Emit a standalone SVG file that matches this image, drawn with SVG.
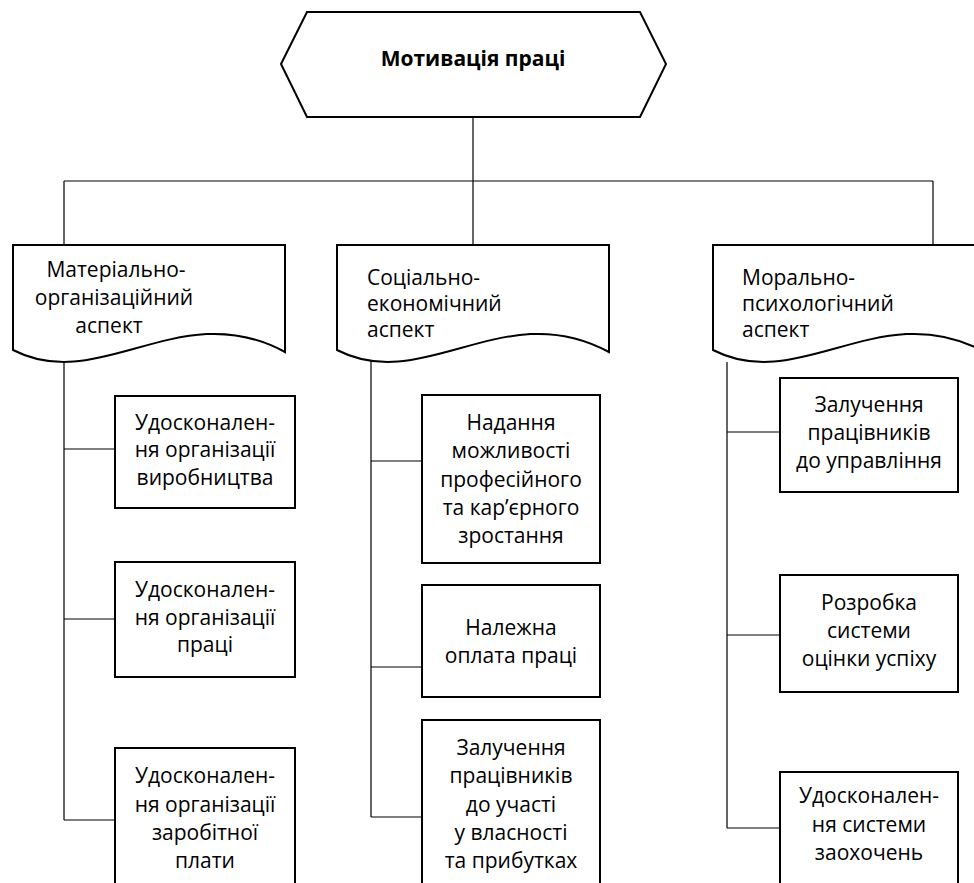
<svg xmlns="http://www.w3.org/2000/svg" xmlns:xlink="http://www.w3.org/1999/xlink" width="974" height="883" viewBox="0 0 974 883">
<style>
.shape{fill:#fff;stroke:#000;stroke-width:2;stroke-linejoin:miter}
.conn{fill:none;stroke:#000;stroke-width:1.2}
text{font-family:"Open Sans","Noto Sans","DejaVu Sans",sans-serif;font-size:21px;fill:#000}
.c{text-anchor:middle}
.title{font-weight:bold;font-size:21px}
</style>
<defs>
<path id="doc" d="M0,0 H272 V107 C167,50 87,150 0,105 Z"/>
</defs>
<rect width="974" height="883" fill="#fff"/>
<g id="connectors">
<path class="conn" d="M473,117 V245"/>
<path class="conn" d="M64,181 H933"/>
<path class="conn" d="M64,181 V245"/>
<path class="conn" d="M933,181 V245"/>
<path class="conn" d="M64,362 V820 M64,449 H115 M64,619 H115 M64,820 H115"/>
<path class="conn" d="M371,360 V817 M371,461 H422 M371,667 H422 M371,817 H422"/>
<path class="conn" d="M727,362 V828 M727,432 H780 M727,635 H780 M727,828 H780"/>
</g>
<g id="root">
<polygon class="shape" points="281,64 307,12 640,12 666,64 640,117 307,117"/>
<text class="c title" x="473" y="66">Мотивація праці</text>
</g>
<g id="aspect-material">
<use class="shape" xlink:href="#doc" href="#doc" x="13" y="245"/>
<text class="c" x="116" y="277">Матеріально-</text>
<text class="c" x="114" y="305">організаційний</text>
<text class="c" x="109" y="333">аспект</text>
</g>
<g id="aspect-social">
<use class="shape" xlink:href="#doc" href="#doc" x="337" y="245"/>
<text x="367" y="285">Соціально-</text>
<text x="367" y="311">економічний</text>
<text x="367" y="337">аспект</text>
</g>
<g id="aspect-moral">
<use class="shape" xlink:href="#doc" href="#doc" x="713" y="245"/>
<text x="742" y="285">Морально-</text>
<text x="742" y="311">психологічний</text>
<text x="742" y="337">аспект</text>
</g>
<g id="m1">
<rect class="shape" x="115" y="396" width="180" height="112"/>
<text class="c" x="205" y="430">Удосконален-</text>
<text class="c" x="205" y="457">ня організації</text>
<text class="c" x="205" y="485">виробництва</text>
</g>
<g id="m2">
<rect class="shape" x="115" y="562" width="180" height="115"/>
<text class="c" x="205" y="597">Удосконален-</text>
<text class="c" x="205" y="625">ня організації</text>
<text class="c" x="205" y="652">праці</text>
</g>
<g id="m3">
<rect class="shape" x="115" y="748" width="180" height="145"/>
<text class="c" x="205" y="783">Удосконален-</text>
<text class="c" x="205" y="812">ня організації</text>
<text class="c" x="205" y="840">заробітної</text>
<text class="c" x="205" y="868">плати</text>
</g>
<g id="s1">
<rect class="shape" x="422" y="395" width="178" height="168"/>
<text class="c" x="511" y="430">Надання</text>
<text class="c" x="511" y="458">можливості</text>
<text class="c" x="511" y="487">професійного</text>
<text class="c" x="511" y="515">та кар’єрного</text>
<text class="c" x="511" y="543">зростання</text>
</g>
<g id="s2">
<rect class="shape" x="422" y="585" width="178" height="112"/>
<text class="c" x="511" y="635">Належна</text>
<text class="c" x="511" y="663">оплата праці</text>
</g>
<g id="s3">
<rect class="shape" x="422" y="720" width="178" height="173"/>
<text class="c" x="511" y="755">Залучення</text>
<text class="c" x="511" y="783">працівників</text>
<text class="c" x="511" y="812">до участі</text>
<text class="c" x="511" y="840">у власності</text>
<text class="c" x="511" y="868">та прибутках</text>
</g>
<g id="p1">
<rect class="shape" x="780" y="378" width="178" height="114"/>
<text class="c" x="869" y="412">Залучення</text>
<text class="c" x="869" y="440">працівників</text>
<text class="c" x="869" y="468">до управління</text>
</g>
<g id="p2">
<rect class="shape" x="780" y="575" width="178" height="117"/>
<text class="c" x="869" y="610">Розробка</text>
<text class="c" x="869" y="638">системи</text>
<text class="c" x="869" y="666">оцінки успіху</text>
</g>
<g id="p3">
<rect class="shape" x="780" y="772" width="178" height="121"/>
<text class="c" x="869" y="803">Удосконален-</text>
<text class="c" x="869" y="832">ня системи</text>
<text class="c" x="869" y="860">заохочень</text>
</g>
</svg>
